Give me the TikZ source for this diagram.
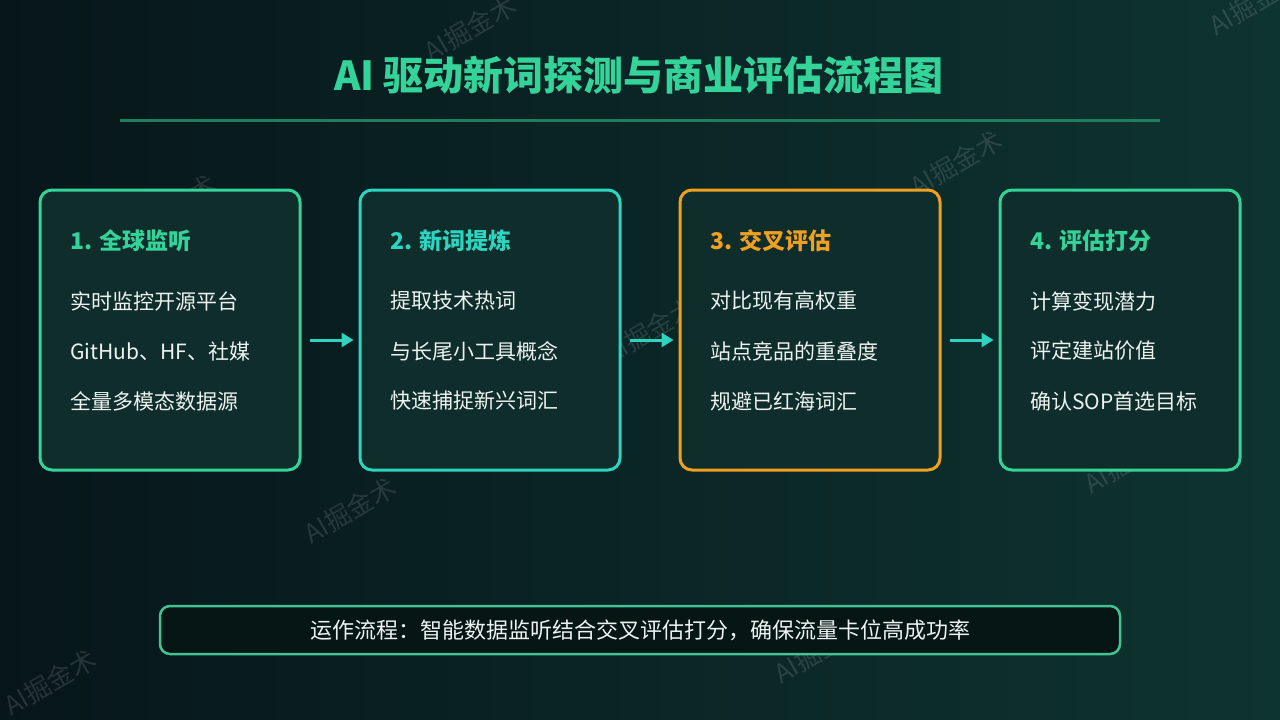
\documentclass[tikz,border=0pt]{standalone}
\usepackage{fontspec}
\setmainfont{Noto Sans CJK SC}
\usetikzlibrary{arrows.meta,positioning}
\definecolor{fondoizq}{HTML}{07161A}
\definecolor{fondoder}{HTML}{0E3430}
\definecolor{relleno}{HTML}{0F2E2B}
\definecolor{verde}{HTML}{34D399}
\definecolor{turquesa}{HTML}{2DD4BF}
\definecolor{naranja}{HTML}{F0A020}
\definecolor{texto}{HTML}{ECF2F0}
\definecolor{notafondo}{HTML}{061614}
\tikzset{
  caja/.style={rectangle, rounded corners=12pt, line width=3pt, fill=relleno, minimum width=260pt, minimum height=280pt},
  encabezado/.style={anchor=west, inner sep=0pt, font=\fontsize{23}{27}\selectfont\bfseries},
  punto/.style={anchor=west, inner sep=0pt, text=texto, font=\fontsize{21}{25}\selectfont},
  flecha/.style={draw=turquesa, line width=3pt, -{Triangle[length=12pt,width=14pt]}, shorten <=8pt, shorten >=5pt},
  marca/.style={rotate=30, text=white, opacity=0.12, font=\fontsize{26}{26}\selectfont}
}
\begin{document}
\begin{tikzpicture}[x=1pt,y=-1pt]
  %fondo
  \shade[left color=fondoizq, right color=fondoder] (0,0) rectangle (1280,720);
  \useasboundingbox (0,0) rectangle (1280,720);
  %marcas de agua
  \node[marca] at (470,28) (m1) {AI掘金术};
  \node[marca] at (170,207) (m2) {AI掘金术};
  \node[marca] at (956,163) (m3) {AI掘金术};
  \node[marca] at (650,330) (m4) {AI掘金术};
  \node[marca] at (350,510) (m5) {AI掘金术};
  \node[marca] at (1130,460) (m6) {AI掘金术};
  \node[marca] at (820,650) (m7) {AI掘金术};
  \node[marca] at (50,682) (m8) {AI掘金术};
  \node[marca] at (1255,2) (m9) {AI掘金术};
  %titulo
  \node[text=verde, font=\fontsize{40}{44}\selectfont\bfseries] at (639,75) (titulo) {AI 驱动新词探测与商业评估流程图};
  \draw [draw=verde!55!fondoizq, line width=3pt] (120,120) -- (1160,120);
  %cajas
  \node[caja, draw=verde] at (170,330) (caja1) {};
  \node[caja, draw=turquesa] at (490,330) (caja2) {};
  \node[caja, draw=naranja] at (810,330) (caja3) {};
  \node[caja, draw=verde, minimum width=240pt] at (1120,330) (caja4) {};
  %caja 1
  \node[encabezado, text=verde] at (70,241) (c1t) {1. 全球监听};
  \node[punto] at (70,301) (c1a) {实时监控开源平台};
  \node[punto] at (70,351) (c1b) {GitHub、HF、社媒};
  \node[punto] at (70,401) (c1c) {全量多模态数据源};
  %caja 2
  \node[encabezado, text=turquesa] at (390,241) (c2t) {2. 新词提炼};
  \node[punto] at (390,301) (c2a) {提取技术热词};
  \node[punto] at (390,351) (c2b) {与长尾小工具概念};
  \node[punto] at (390,401) (c2c) {快速捕捉新兴词汇};
  %caja 3
  \node[encabezado, text=naranja] at (710,241) (c3t) {3. 交叉评估};
  \node[punto] at (710,301) (c3a) {对比现有高权重};
  \node[punto] at (710,351) (c3b) {站点竞品的重叠度};
  \node[punto] at (710,401) (c3c) {规避已红海词汇};
  %caja 4
  \node[encabezado, text=verde] at (1030,241) (c4t) {4. 评估打分};
  \node[punto] at (1030,301) (c4a) {计算变现潜力};
  \node[punto] at (1030,351) (c4b) {评定建站价值};
  \node[punto] at (1030,401) (c4c) {确认SOP首选目标};
  %flechas
  \draw [flecha] ([yshift=-10pt]caja1.east) -- ([yshift=-10pt]caja2.west);
  \draw [flecha] ([yshift=-10pt]caja2.east) -- ([yshift=-10pt]caja3.west);
  \draw [flecha] ([yshift=-10pt]caja3.east) -- ([yshift=-10pt]caja4.west);
  %nota
  \node[rectangle, rounded corners=10pt, draw=verde!80!gray, line width=2.5pt, fill=notafondo, minimum width=960pt, minimum height=48pt, text=texto, font=\fontsize{22}{26}\selectfont] at (640,630) (nota) {运作流程：智能数据监听结合交叉评估打分，确保流量卡位高成功率};
\end{tikzpicture}
\end{document}
